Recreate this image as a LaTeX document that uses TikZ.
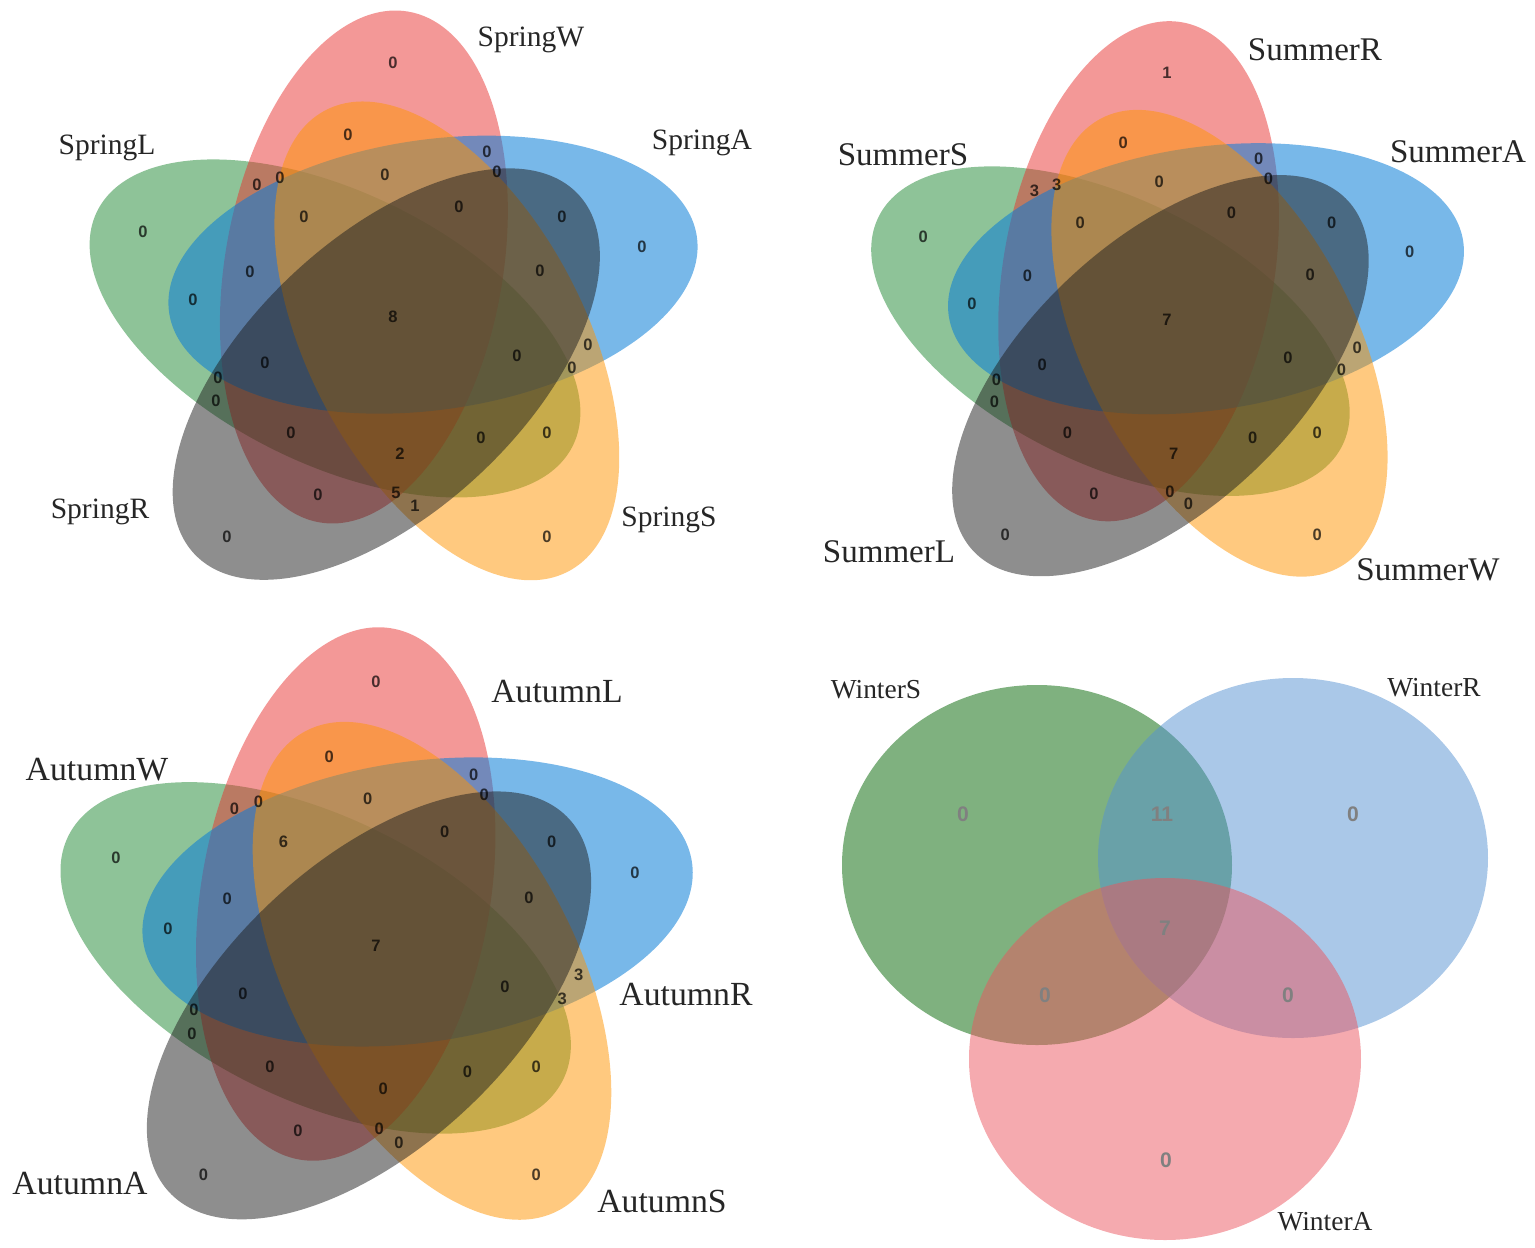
\documentclass[tikz,border=0pt]{standalone}
\usepackage{fontspec}
\setmainfont{Liberation Serif}
\newfontfamily\numfont{Liberation Sans}
\usepackage{tikz}
\usetikzlibrary{positioning}

\definecolor{vgreen}{RGB}{30,135,50}
\definecolor{vred}{RGB}{232,50,48}
\definecolor{vblue}{RGB}{10,125,215}
\definecolor{vyellow}{RGB}{255,148,0}
\definecolor{vgray}{RGB}{30,30,30}
\definecolor{wgreen}{RGB}{0,100,0}
\definecolor{wblue}{RGB}{85,145,209}
\definecolor{wred}{RGB}{235,85,95}

% the five ellipses, drawn round the origin of the scope
\newcommand{\fiveellipses}{%
  \begin{scope}[xscale=1.03, rotate=-2]
    \foreach \k/\col/\op in {4/vgreen/0.5,0/vred/0.5,1/vblue/0.55,2/vyellow/0.5,3/vgray/0.5}
      \fill[\col, fill opacity=\op, rotate=-72*\k, shift={(-30,-49)}, rotate=82.6] (0,0) ellipse (259 and 135);
  \end{scope}}

% counts of the 31 regions, same order in every panel
\newcommand{\fivecounts}[2]{%
  \foreach \x/\y [count=\i] in {0/-254,-45/-182,94/-165,104/-145,-8/-142,-136/-132,-113/-139,-250/-85,-89/-100,66/-110,169/-100,249/-70,-143/-45,147/-46,-200/-17,0/0,-128/46,124/39,195/28,179/51,-175/61,-177/84,-102/116,88/121,154/116,7/137,-75/178,3/176,22/189,-166/220,154/220}
  {\pgfmathtruncatemacro\v{{#2}[\i-1]}
   \node[regnum] (#1\i) at (\x,\y) {\v};}}

\begin{document}
\begin{tikzpicture}[x=0.01cm,y=-0.01cm]
  \tikzset{regnum/.style={inner sep=0pt, font=\numfont\bfseries\fontsize{4.7}{5}\selectfont, text=black, text opacity=0.7},
    setname/.style={inner sep=0pt, text=black!85}}
  \useasboundingbox (0,0) rectangle (1535,1247);

  % Spring
  \begin{scope}[shift={(393,317)}]
    \fiveellipses
    \fivecounts{sp}{0,0,0,0,0,0,0,0,0,0,0,0,0,0,0,8,0,0,0,0,0,0,0,0,0,2,0,5,1,0,0}
  \end{scope}
  \begin{scope}[every node/.append style={setname, font=\fontsize{8.4}{10}\selectfont}]
    \node (SpringW) at (531,40) {SpringW};
    \node (SpringL) at (107,148) {SpringL};
    \node (SpringA) at (702,143) {SpringA};
    \node (SpringR) at (100,512) {SpringR};
    \node (SpringS) at (669,520) {SpringS};
  \end{scope}

  % Summer
  \begin{scope}[shift={(1167,320)}, scale=0.975]
    \fiveellipses
    \fivecounts{su}{1,0,0,0,0,3,3,0,0,0,0,0,0,0,0,7,0,0,0,0,0,0,0,0,0,7,0,0,0,0,0}
  \end{scope}
  \begin{scope}[every node/.append style={setname, font=\fontsize{9.4}{11}\selectfont}]
    \node (SummerR) at (1315,50) {SummerR};
    \node (SummerS) at (903,155) {SummerS};
    \node (SummerA) at (1458,152) {SummerA};
    \node (SummerL) at (889,552) {SummerL};
    \node (SummerW) at (1428,570) {SummerW};
  \end{scope}

  % Autumn
  \begin{scope}[shift={(376,946)}, scale=1.04]
    \fiveellipses
    \fivecounts{au}{0,0,0,0,0,0,0,0,6,0,0,0,0,0,0,7,0,0,3,3,0,0,0,0,0,0,0,0,0,0,0}
  \end{scope}
  \begin{scope}[every node/.append style={setname, font=\fontsize{9.6}{11}\selectfont}]
    \node (AutumnL) at (557,692) {AutumnL};
    \node (AutumnW) at (97,770) {AutumnW};
    \node (AutumnR) at (686,995) {AutumnR};
    \node (AutumnA) at (80,1184) {AutumnA};
    \node (AutumnS) at (662,1201) {AutumnS};
  \end{scope}

  % Winter
  \fill[wgreen, fill opacity=0.5] (1037,865) ellipse (195 and 180);
  \fill[wblue, fill opacity=0.5] (1293,858) ellipse (195 and 180);
  \fill[wred, fill opacity=0.5] (1165,1059) ellipse (196 and 181);
  \begin{scope}[every node/.append style={regnum, font=\numfont\bfseries\fontsize{6}{7}\selectfont, text=black!50, text opacity=1}]
    \node (wi1) at (963,814) {0};
    \node (wi2) at (1162,814) {11};
    \node (wi3) at (1353,814) {0};
    \node (wi4) at (1165,928) {7};
    \node (wi5) at (1045,995) {0};
    \node (wi6) at (1288,995) {0};
    \node (wi7) at (1166,1160) {0};
  \end{scope}
  \begin{scope}[every node/.append style={setname, font=\fontsize{7.8}{9}\selectfont}]
    \node (WinterS) at (876,690) {WinterS};
    \node (WinterR) at (1434,688) {WinterR};
    \node (WinterA) at (1325,1222) {WinterA};
  \end{scope}
\end{tikzpicture}
\end{document}
